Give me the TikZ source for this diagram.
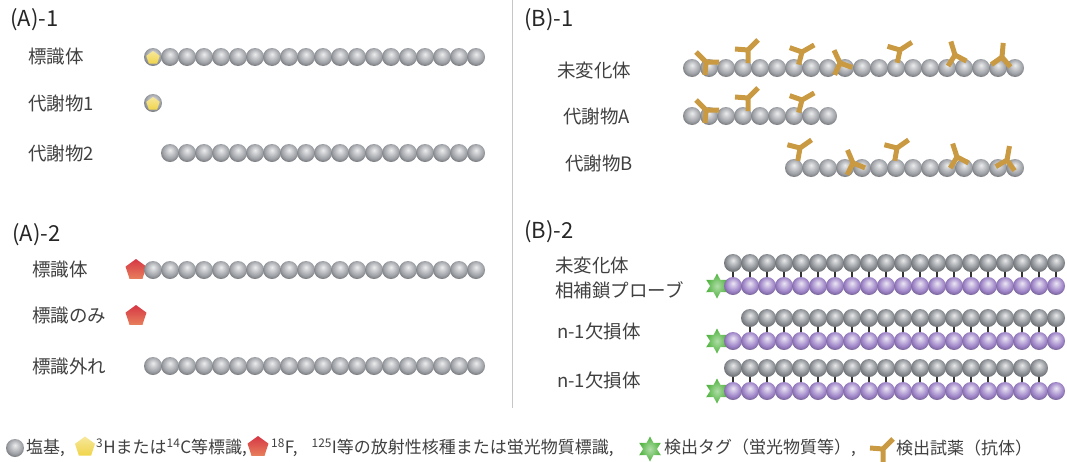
\documentclass[tikz,border=0pt]{standalone}
\usepackage{fontspec}
\setmainfont{Noto Sans CJK JP}
\usetikzlibrary{positioning,shapes.geometric}

\definecolor{labelgray}{HTML}{404040}
\definecolor{abgold}{HTML}{C99A42}
\definecolor{beadgray}{HTML}{A0A3A8}
\definecolor{dnagray}{HTML}{8C9095}
\definecolor{probe}{HTML}{9E84C8}
\definecolor{tagred}{HTML}{D63645}
\definecolor{tagorange}{HTML}{E8805C}
\definecolor{tagyellow}{HTML}{F0D44A}
\definecolor{taggreen}{HTML}{4FB33E}

% soft sphere, light on top, dark at the lower rim
\newcommand\beadshading[2]{%
  \pgfdeclareradialshading{#1}{\pgfpoint{0bp}{8bp}}{color(0bp)=(#2!20!white);
    color(10bp)=(#2!60!white); color(20bp)=(#2); color(28bp)=(#2!75!black);
    color(33bp)=(#2!55!black); color(50bp)=(#2!45!black)}}
\beadshading{graybead}{beadgray}
\beadshading{dnabead}{dnagray}
\beadshading{probebead}{probe}

\tikzset{
  title/.style={anchor=west, inner sep=0, font=\fontsize{22}{26}\selectfont, text=black!85},
  lbl/.style={anchor=west, inner sep=0, font=\fontsize{18.5}{22}\selectfont, text=labelgray},
  legend/.style={anchor=west, inner sep=0, font=\fontsize{17}{20}\selectfont, text=labelgray},
  bead/.style={shading=graybead},
  dna/.style={shading=dnabead},
  probe/.style={shading=probebead},
  rung/.style={draw=black!80, line width=2.5},
  abline/.style={draw=abgold, line width=5, line join=round},
  antibody/.pic={\draw[abline] (0,0) -- (0,13) (-13,-1) -- (0,0) -- (10,-10);},
  pentagon/.style={regular polygon, regular polygon sides=5, inner sep=0, draw=none},
  redtag/.style={pentagon, minimum size=22, top color=tagred, bottom color=tagorange},
  yellowtag/.style={pentagon, minimum size=21, top color=tagyellow!55!white, bottom color=tagyellow},
  greentag/.style={star, star points=6, star point ratio=1.8, minimum size=25, inner sep=0,
    inner color=taggreen!45!white, outer color=taggreen}
}

\begin{document}
\begin{tikzpicture}[x=1pt,y=-1pt]
  \useasboundingbox (0,0) rectangle (1067,461);
  \draw[gray!45, line width=1] (512,0) -- (512,408);

  % (A)-1
  \node[title] (ta1) at (10,20) {(A)-1};
  \node[lbl] (a1full) at (28,57) {標識体};
  \node[lbl] (a1met1) at (28,103) {代謝物1};
  \node[lbl] (a1met2) at (28,153) {代謝物2};
  \foreach \k in {0,...,19} \shade[bead] (153+17*\k,57) circle[radius=9pt];
  \node[yellowtag, minimum size=14] (a1tag) at (153,58) {};
  \shade[bead] (153,103) circle[radius=9pt];
  \node[yellowtag, minimum size=14] (a1free) at (153,104) {};
  \foreach \k in {1,...,19} \shade[bead] (153+17*\k,153) circle[radius=9pt];

  % (A)-2
  \node[title] (ta2) at (12,235) {(A)-2};
  \node[lbl] (a2full) at (32,270) {標識体};
  \node[lbl] (a2only) at (32,316) {標識のみ};
  \node[lbl] (a2off) at (32,366) {標識外れ};
  \node[redtag] (a2tag) at (136,270) {};
  \foreach \k in {0,...,19} \shade[bead] (153+17*\k,270) circle[radius=9pt];
  \node[redtag] (a2free) at (136,316) {};
  \foreach \k in {0,...,19} \shade[bead] (153+17*\k,366) circle[radius=9pt];

  % (B)-1
  \node[title] (tb1) at (524,20) {(B)-1};
  \node[lbl] (b1full) at (557,70) {未変化体};
  \node[lbl] (b1meta) at (563,116) {代謝物A};
  \node[lbl] (b1metb) at (565,163) {代謝物B};
  \foreach \k in {0,...,19} \shade[bead] (692+17*\k,68) circle[radius=9pt];
  \foreach \k in {0,...,8} \shade[bead] (692+17*\k,116) circle[radius=9pt];
  \foreach \k in {6,...,19} \shade[bead] (692+17*\k,168) circle[radius=9pt];
  \foreach \x/\y/\r in {706/62/90, 748/50/0, 802/52/-15, 840/63/70, 900/50/-12,
                        955/55/62, 1002/57/40, 706/110/90, 748/98/0, 802/100/-15,
                        800/148/-10, 853/163/68, 897/148/-10, 957/157/63, 1007/160/35}
    \pic[rotate=\r] at (\x,\y) {antibody};

  % (B)-2
  \node[title] (tb2) at (524,232) {(B)-2};
  \node[lbl] (b2full) at (555,265) {未変化体};
  \node[lbl] (b2probe) at (555,290) {相補鎖プローブ};
  \node[lbl] (b2del1) at (557,331) {n-1欠損体};
  \node[lbl] (b2del2) at (557,380) {n-1欠損体};
  \foreach \gy/\py/\a/\b/\n in {263/286/0/19/1, 318/341/1/19/2, 368/391/0/18/3} {
    \node[greentag] (tag\n) at (717,\py) {};
    \foreach \k in {\a,...,\b} \draw[rung] (733+17*\k,\gy+6) -- (733+17*\k,\py-6);
    \foreach \k in {\a,...,\b} \shade[dna] (733+17*\k,\gy) circle[radius=9pt];
    \foreach \k in {0,...,19} \shade[probe] (733+17*\k,\py) circle[radius=9pt];
  }

  % legend
  \shade[bead] (15,448) circle[radius=9pt];
  \node[legend] (lgbase) at (26,448) {塩基,};
  \node[yellowtag] (lgyellow) at (85,447) {};
  \node[legend] (lgh) at (96,448) {\textsuperscript{3}Hまたは\textsuperscript{14}C等標識,};
  \node[redtag] (lgred) at (258,447) {};
  \node[legend] (lgf) at (271,448) {\textsuperscript{18}F,\hspace{14pt}\textsuperscript{125}I等の放射性核種または蛍光物質標識,};
  \node[greentag] (lgstar) at (650,449) {};
  \node[legend] (lgtag) at (664,448) {検出タグ（蛍光物質等）,};
  \pic at (883,449) {antibody};
  \node[legend] (lgab) at (896,448) {検出試薬（抗体）};
\end{tikzpicture}
\end{document}
